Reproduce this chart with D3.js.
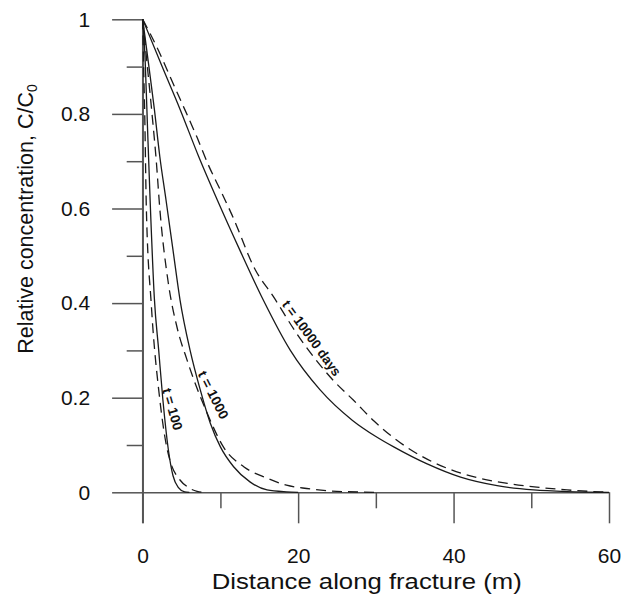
<!DOCTYPE html>
<html>
<head>
<meta charset="utf-8">
<script src="https://cdn.jsdelivr.net/npm/d3@7"></script>
<style>
  body { margin: 0; background: #fff; }
  svg { display: block; }
  text { font-family: "Liberation Sans", Arial, Helvetica, sans-serif; fill: #111; }
</style>
</head>
<body>
<div id="chart"></div>
<script>
// curves: [distance (m), C/C0]
const solid100 = [[0,1],[0.3,0.92],[0.6,0.78],[0.95,0.62],[1.5,0.41],[2.06,0.30],[2.6,0.195],[3.3,0.09],[3.9,0.035],[4.6,0.01],[5.4,0.001],[6,0]];
const dashed100 = [[0,1],[0.12,0.9],[0.26,0.8],[0.47,0.6],[1.11,0.396],[2.18,0.199],[3.04,0.1],[3.5,0.068],[4.8,0.026],[5.8,0.011],[7,0.002],[8,0]];
const solid1000 = [[0,1],[0.8,0.9],[1.5,0.81],[2.2,0.71],[3.0,0.618],[3.9,0.512],[4.8,0.407],[6.1,0.30],[7.4,0.217],[8.7,0.146],[10,0.096],[11.7,0.054],[13.8,0.022],[16,0.005],[18.5,0.001],[20,0]];
const dashed1000 = [[0,1],[0.6,0.9],[1.2,0.8],[1.75,0.70],[2.2,0.6],[3.3,0.442],[4.4,0.35],[5.7,0.28],[8.3,0.167],[10.5,0.093],[13,0.054],[16,0.030],[18.5,0.015],[21.1,0.008],[24.1,0.003],[28,0.0005],[30,0]];
const solid10000 = [[0,1],[2.5,0.9],[4.8,0.81],[7.2,0.71],[9.6,0.618],[12.5,0.512],[15.5,0.407],[19,0.30],[22.8,0.217],[27,0.152],[30,0.118],[32.3,0.096],[36.6,0.060],[40.9,0.032],[45.6,0.014],[50.3,0.005],[54.6,0.0015],[60,0]];
const dashed10000 = [[0,1],[2.0,0.935],[3.7,0.872],[5.45,0.808],[6.95,0.752],[8.45,0.692],[10.2,0.632],[11.5,0.586],[14.5,0.47],[16.8,0.414],[19.8,0.336],[24.5,0.237],[27.1,0.195],[29.8,0.150],[32.3,0.115],[35.7,0.078],[39.3,0.050],[43,0.031],[46.9,0.019],[50.7,0.011],[54.6,0.005],[58.9,0.001],[60,0.0005]];

const xMajor = [0, 20, 40, 60];
const xMinor = [10, 30, 50];
const yMajor = [0, 0.2, 0.4, 0.6, 0.8, 1];
const yMinor = [0.1, 0.3, 0.5, 0.7, 0.9];

// curve labels: text, position (m, C/C0), angle, length along the curve
const curveLabels = [
    { text: "t = 100", x: 3.84, c: 0.176, angle: 74, len: 43 },
    { text: "t = 1000", x: 9.09, c: 0.206, angle: 63.5, len: 52 },
    { text: "t = 10000 days", x: 21.76, c: 0.326, angle: 54, len: 90 }
];

const margin = { top: 19.3, right: 20, bottom: 103.7, left: 142.7 };
const width = 629 - margin.left - margin.right;
const height = 596 - margin.top - margin.bottom;

const svg = d3.select("#chart")
    .append("svg")
    .attr("width", 629)
    .attr("height", 596)
  .append("g")
    .attr("transform", `translate(${margin.left},${margin.top})`);

const x = d3.scaleLinear().domain([0, 60]).range([0, 466.3]);
const y = d3.scaleLinear().domain([0, 1]).range([height, 0]);

const axisColor = "#555";

function styleAxis(g) {
    g.selectAll("path, line").attr("stroke", axisColor).attr("stroke-width", 1.5);
    g.selectAll("text").style("font-size", "21px").attr("fill", "#111");
}

// minor ticks first
svg.append("g")
    .attr("transform", `translate(0,${height})`)
    .call(d3.axisBottom(x).tickValues(xMinor).tickSize(16).tickSizeOuter(0).tickFormat(""))
    .call(g => g.select(".domain").remove())
    .call(styleAxis);

svg.append("g")
    .call(d3.axisLeft(y).tickValues(yMinor).tickSize(16).tickSizeOuter(0).tickFormat(""))
    .call(g => g.select(".domain").remove())
    .call(styleAxis);

svg.append("g")
    .attr("transform", `translate(0,${height})`)
    .call(d3.axisBottom(x).tickValues(xMajor).tickSize(31).tickSizeOuter(0).tickPadding(24.5).tickFormat(d3.format("d")))
    .call(styleAxis);

svg.append("g")
    .call(d3.axisLeft(y).tickValues(yMajor).tickSize(30.6).tickSizeOuter(0).tickPadding(22).tickFormat(d => d))
    .call(styleAxis);

// y axis continues down to the 0 tick of x
svg.append("line")
    .attr("x1", x(0)).attr("x2", x(0))
    .attr("y1", 0).attr("y2", height + 31)
    .attr("stroke", axisColor).attr("stroke-width", 1.5);

const line = d3.line()
    .x(d => x(d[0]))
    .y(d => y(d[1]))
    .curve(d3.curveMonotoneX);

const series = [
    { data: solid100, dashed: false },
    { data: dashed100, dashed: true },
    { data: solid1000, dashed: false },
    { data: dashed1000, dashed: true },
    { data: solid10000, dashed: false },
    { data: dashed10000, dashed: true }
];

svg.selectAll(".curve")
    .data(series)
    .enter().append("path")
    .attr("class", "curve")
    .attr("d", d => line(d.data))
    .attr("fill", "none")
    .attr("stroke", "#1a1a1a")
    .attr("stroke-width", 1.3)
    .attr("stroke-dasharray", d => d.dashed ? "10,6" : null);

svg.selectAll(".clabel")
    .data(curveLabels)
    .enter().append("text")
    .attr("class", "clabel")
    .attr("transform", d => `translate(${x(d.x)},${y(d.c)}) rotate(${d.angle})`)
    .attr("text-anchor", "middle")
    .attr("dy", "0.35em")
    .attr("textLength", d => d.len)
    .attr("lengthAdjust", "spacingAndGlyphs")
    .style("font-size", "13.5px")
    .style("font-weight", "bold")
    .text(d => d.text);

// axis titles
svg.append("text")
    .attr("x", 366.7 - margin.left)
    .attr("y", 589 - margin.top)
    .attr("text-anchor", "middle")
    .attr("textLength", 310)
    .attr("lengthAdjust", "spacingAndGlyphs")
    .style("font-size", "22px")
    .text("Distance along fracture (m)");

const yTitle = svg.append("text")
    .attr("transform", `translate(${33 - margin.left},${219 - margin.top}) rotate(-90)`)
    .attr("text-anchor", "middle")
    .style("font-size", "21.5px");
yTitle.append("tspan").text("Relative concentration, C/C");
yTitle.append("tspan")
    .attr("dy", "0.3em")
    .style("font-size", "14px")
    .text("0");
</script>
</body>
</html>
